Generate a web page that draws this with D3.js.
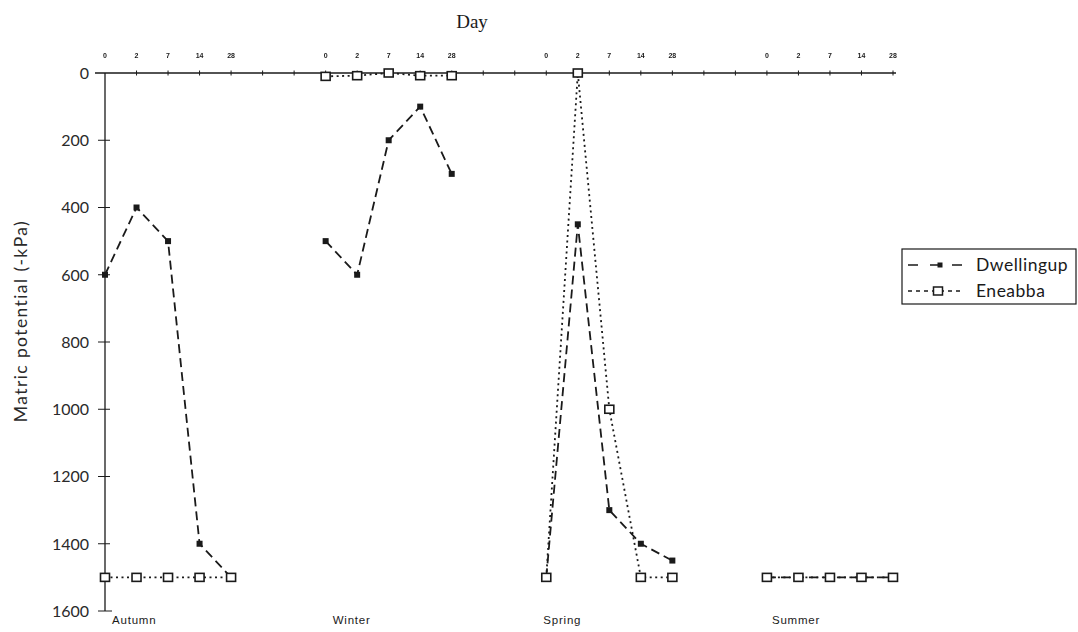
<!DOCTYPE html>
<html>
<head>
<meta charset="utf-8">
<script src="https://cdn.jsdelivr.net/npm/d3@7"></script>
<style>
  html, body { margin: 0; padding: 0; background: #fff; }
  svg { display: block; }
  .gray-aa { filter: grayscale(1); }
</style>
</head>
<body>
<svg id="chart" width="1078" height="632"></svg>
<script>
// Sampling days within each season, and the seasons in order
const seasons = ["Autumn", "Winter", "Spring", "Summer"];
const days = [0, 2, 7, 14, 28];
const gapSlots = 2; // empty positions on the day axis between seasons

// Matric potential (-kPa), one array per season, in day order
const dwellingup = [
  [600, 400, 500, 1400, 1500],
  [500, 600, 200, 100, 300],
  [1500, 450, 1300, 1400, 1450],
  [1500, 1500, 1500, 1500, 1500]
];
const eneabba = [
  [1500, 1500, 1500, 1500, 1500],
  [10, 8, 0, 8, 8],
  [1500, 0, 1000, 1500, 1500],
  [1500, 1500, 1500, 1500, 1500]
];
const yTicks = [0, 200, 400, 600, 800, 1000, 1200, 1400, 1600];
const seriesNames = ["Dwellingup", "Eneabba"];

const svg = d3.select("#chart");

// Day-axis slots: five sampling days per season, with blank slots between seasons
const slots = [];
seasons.forEach((s, si) => {
  days.forEach(d => slots.push({ key: s + "-" + d, day: d, season: s }));
  if (si < seasons.length - 1) {
    for (let g = 0; g < gapSlots; g++) slots.push({ key: s + "-gap" + g, day: null, season: s });
  }
});

const x = d3.scalePoint().domain(slots.map(d => d.key)).range([105, 893]);
const y = d3.scaleLinear().domain([0, 1600]).range([73, 611]);

const ink = "#1a1a1a";

// Title of the day axis
svg.append("text")
  .attr("x", 472).attr("y", 28)
  .attr("text-anchor", "middle")
  .attr("font-family", "Liberation Serif, serif")
  .attr("font-size", 19)
  .attr("fill", ink)
  .text("Day");

// Day axis along the zero line
const topAxis = svg.append("g");
topAxis.append("line")
  .attr("x1", 95).attr("x2", x(slots[slots.length - 1].key) + 3)
  .attr("y1", y(0)).attr("y2", y(0))
  .attr("stroke", ink).attr("stroke-width", 1.3);
topAxis.selectAll("line.tick")
  .data(slots.filter((d, i) => i > 0))
  .join("line")
  .attr("class", "tick")
  .attr("x1", d => x(d.key)).attr("x2", d => x(d.key))
  .attr("y1", y(0) - 2.5).attr("y2", y(0) + 2.5)
  .attr("stroke", ink).attr("stroke-width", 1);
topAxis.append("g").attr("class", "gray-aa")
  .selectAll("text")
  .data(slots.filter(d => d.day !== null))
  .join("text")
  .attr("x", d => x(d.key)).attr("y", 58)
  .attr("text-anchor", "middle")
  .attr("font-family", "Liberation Sans, sans-serif")
  .attr("font-weight", "bold")
  .attr("font-size", 7)
  .attr("fill", ink)
  .text(d => d.day);

// Vertical axis
const leftAxis = svg.append("g");
leftAxis.append("line")
  .attr("x1", 105).attr("x2", 105)
  .attr("y1", y(0)).attr("y2", y(1600))
  .attr("stroke", ink).attr("stroke-width", 1.3);
leftAxis.selectAll("line.tick")
  .data(yTicks.filter(v => v > 0))
  .join("line")
  .attr("class", "tick")
  .attr("x1", 98).attr("x2", v => v === 1600 ? 112 : 110)
  .attr("y1", v => y(v)).attr("y2", v => y(v))
  .attr("stroke", ink).attr("stroke-width", 1);
leftAxis.selectAll("text")
  .data(yTicks)
  .join("text")
  .attr("x", 89).attr("y", v => y(v))
  .attr("dy", "0.36em")
  .attr("text-anchor", "end")
  .attr("font-family", "Lato, sans-serif")
  .attr("font-size", 16)
  .attr("fill", "#2a2a2a")
  .text(v => v);

svg.append("text")
  .attr("transform", "translate(27,321) rotate(-90)")
  .attr("text-anchor", "middle")
  .attr("font-family", "Lato, sans-serif")
  .attr("font-size", 17.5)
  .attr("letter-spacing", 1.4)
  .attr("fill", "#2a2a2a")
  .text("Matric potential (-kPa)");

// Season names under the plot
const seasonOffset = [7, 7, -3, 5];
svg.selectAll("text.season")
  .data(seasons)
  .join("text")
  .attr("class", "season")
  .attr("x", (s, i) => x(s + "-0") + seasonOffset[i])
  .attr("y", 624)
  .attr("font-family", "Liberation Sans, sans-serif")
  .attr("font-size", 11.5)
  .attr("letter-spacing", 0.8)
  .attr("fill", ink)
  .text(s => s);

// Lines: one segment per season for each site
const line = d3.line()
  .x(d => x(d.key))
  .y(d => y(d.v));

function seasonPoints(values) {
  return seasons.map((s, si) => days.map((d, di) => ({ key: s + "-" + d, v: values[si][di] })));
}

const dwPts = seasonPoints(dwellingup);
const enPts = seasonPoints(eneabba);

const dwDash = "9,5";
const enDash = "2,3.5";

svg.append("g").selectAll("path")
  .data(dwPts)
  .join("path")
  .attr("d", line)
  .attr("fill", "none")
  .attr("stroke", ink)
  .attr("stroke-width", 1.8)
  .attr("stroke-dasharray", dwDash);

svg.append("g").selectAll("rect")
  .data(dwPts.flat())
  .join("rect")
  .attr("x", d => x(d.key) - 3).attr("y", d => y(d.v) - 3)
  .attr("width", 6).attr("height", 6)
  .attr("fill", ink);

svg.append("g").selectAll("path")
  .data(enPts)
  .join("path")
  .attr("d", line)
  .attr("fill", "none")
  .attr("stroke", ink)
  .attr("stroke-width", 1.8)
  .attr("stroke-dasharray", enDash);

svg.append("g").selectAll("rect")
  .data(enPts.flat())
  .join("rect")
  .attr("x", d => x(d.key) - 4.5).attr("y", d => y(d.v) - 4)
  .attr("width", 9).attr("height", 8)
  .attr("fill", "#fff")
  .attr("stroke", ink)
  .attr("stroke-width", 1.6);

// Legend
const legend = svg.append("g").attr("transform", "translate(902,249)");
legend.append("rect")
  .attr("width", 174).attr("height", 55)
  .attr("fill", "#fff").attr("stroke", ink).attr("stroke-width", 1.2);
const rows = legend.selectAll("g.row")
  .data(seriesNames)
  .join("g")
  .attr("class", "row")
  .attr("transform", (d, i) => "translate(0," + (16 + i * 26) + ")");
rows.append("line")
  .attr("x1", 6).attr("x2", (d, i) => i === 0 ? 62 : 61).attr("y1", 0).attr("y2", 0)
  .attr("stroke", ink).attr("stroke-width", 1.6)
  .attr("stroke-dasharray", (d, i) => i === 0 ? "10,12" : "4,4");
rows.append("rect")
  .attr("x", (d, i) => i === 0 ? 35.5 : 31.5)
  .attr("y", (d, i) => i === 0 ? -2.5 : -4)
  .attr("width", (d, i) => i === 0 ? 5 : 9)
  .attr("height", (d, i) => i === 0 ? 5 : 8)
  .attr("fill", (d, i) => i === 0 ? ink : "#fff")
  .attr("stroke", (d, i) => i === 0 ? "none" : ink)
  .attr("stroke-width", 1.5);
rows.append("text")
  .attr("x", 74).attr("y", 0).attr("dy", "0.35em")
  .attr("font-family", "Lato, sans-serif")
  .attr("font-size", 17.5)
  .attr("letter-spacing", 0.5)
  .attr("fill", ink)
  .text(d => d);
</script>
</body>
</html>
